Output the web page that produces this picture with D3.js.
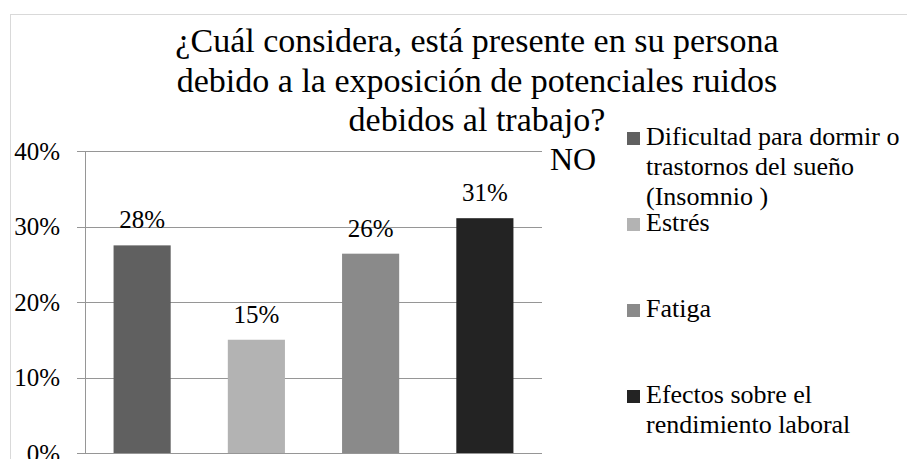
<!DOCTYPE html>
<html>
<head>
<meta charset="utf-8">
<script src="https://cdn.jsdelivr.net/npm/d3@7"></script>
<style>
  body { margin: 0; background: #fff; }
</style>
</head>
<body>
<script>
var width = 907;
var height = 459;

// chart data
var categories = ["Dificultad para dormir o trastornos del sueño (Insomnio )", "Estrés", "Fatiga", "Efectos sobre el rendimiento laboral"];
var values = [0.275, 0.15, 0.264, 0.311];
var colors = ["#606060", "#b3b3b3", "#8a8a8a", "#232323"];
var yTicks = [0, 0.1, 0.2, 0.3, 0.4];
var titleLines = ["¿Cuál considera, está presente en su persona", "debido a la exposición de potenciales ruidos", "debidos al trabajo?"];
var seriesName = "NO";

var svg = d3.select('body').append('svg').attr('width', width).attr('height', height)
  .attr("font-family", "'Liberation Serif', 'Times New Roman', Times, serif")
  .attr("fill", "#000")

// chart border (only top + left visible in the picture)
svg.append("rect")
  .attr("x", 10.5).attr("y", 14.5)
  .attr("width", width + 20).attr("height", height + 20)
  .attr("fill", "none").attr("stroke", "#d9d9d9");

var x = d3.scaleBand().domain(categories).range([85, 542]).paddingInner(0.5).paddingOuter(0.25);
var y = d3.scaleLinear().domain([0, 0.4]).range([453, 151]);
var pct = d3.format(".0%");

// gridlines
svg.append("g").selectAll("line").data(yTicks).enter().append("line")
  .attr("x1", 77).attr("x2", 542)
  .attr("y1", function (d) { return Math.round(y(d)) + 0.5; })
  .attr("y2", function (d) { return Math.round(y(d)) + 0.5; })
  .attr("stroke", "#969696").attr("stroke-width", 1);

// y axis line
svg.append("line")
  .attr("x1", 85.5).attr("x2", 85.5).attr("y1", y(0.4)).attr("y2", y(0))
  .attr("stroke", "#969696");

// y tick labels
svg.append("g").selectAll("text").data(yTicks).enter().append("text")
  .attr("x", 60).attr("y", function (d) { return y(d); })
  .attr("dy", "0.35em")
  .attr("text-anchor", "end")
  .attr("font-size", 25)
  .text(function (d) { return pct(d); });

// bars
svg.append("g").selectAll("rect").data(values).enter().append("rect")
  .attr("x", function (d, i) { return x(categories[i]); })
  .attr("y", function (d) { return y(d); })
  .attr("width", x.bandwidth())
  .attr("height", function (d) { return y(0) - y(d); })
  .attr("fill", function (d, i) { return colors[i]; });

// data labels
svg.append("g").selectAll("text").data(values).enter().append("text")
  .attr("x", function (d, i) { return x(categories[i]) + x.bandwidth() / 2; })
  .attr("y", function (d) { return y(d) - 17; })
  .attr("text-anchor", "middle")
  .attr("font-size", 25)
  .text(function (d) { return pct(d); });

// title
svg.append("g").selectAll("text").data(titleLines).enter().append("text")
  .attr("x", 477)
  .attr("y", function (d, i) { return 52 + i * 39.5; })
  .attr("text-anchor", "middle")
  .attr("font-size", 34)
  .text(function (d) { return d; });

// series name
svg.append("text")
  .attr("x", 550).attr("y", 170)
  .attr("font-size", 32)
  .text(seriesName);

// legend
var legend = svg.append("g").selectAll("g").data(categories).enter().append("g")
  .attr("transform", function (d, i) { return "translate(627," + (145 + i * 86) + ")"; });

legend.append("rect")
  .attr("x", 0).attr("y", -13)
  .attr("width", 13).attr("height", 13)
  .attr("fill", function (d, i) { return colors[i]; });

legend.append("text")
  .attr("x", 19).attr("y", 0)
  .attr("font-size", 26)
  .each(function (d) {
    var el = d3.select(this);
    var words = d.split(" ");
    var line = [];
    var tspan = el.append("tspan").attr("x", 19).attr("dy", 0);
    for (var k = 0; k < words.length; k++) {
      line.push(words[k]);
      tspan.text(line.join(" "));
      if (tspan.node().getComputedTextLength() > 262 && line.length > 1) {
        line.pop();
        tspan.text(line.join(" "));
        line = [words[k]];
        tspan = el.append("tspan").attr("x", 19).attr("dy", 30).text(words[k]);
      }
    }
  });
</script>
</body>
</html>
